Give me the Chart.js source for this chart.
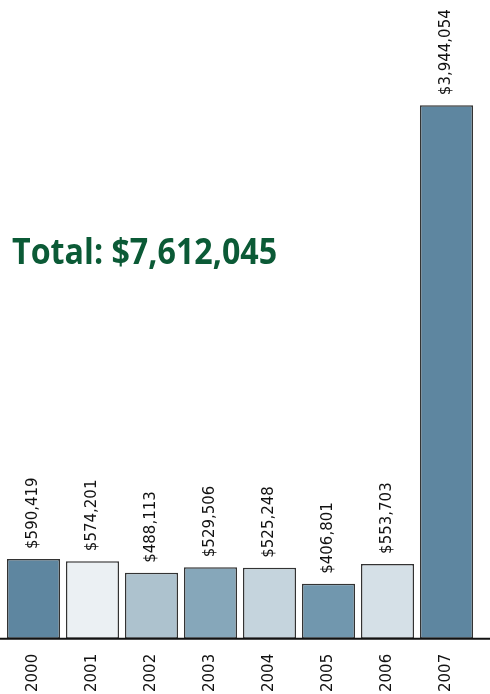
<!DOCTYPE html>
<html>
<head>
<meta charset="utf-8">
<script src="https://cdn.jsdelivr.net/npm/chart.js@4.4.0/dist/chart.umd.min.js"></script>
<style>
  html, body { margin: 0; padding: 0; background: #fff; }
  #wrap { position: relative; width: 490px; height: 694px; }
  #total { position: absolute; left: 12px; top: 226px; font-family: "Open Sans", sans-serif; font-weight: bold; font-size: 36px; color: #0b5a36; white-space: nowrap; transform: scaleX(0.895); transform-origin: left top; }
</style>
</head>
<body>
<div id="wrap">
  <canvas id="c" width="490" height="694"></canvas>
  <div id="total">Total: $7,612,045</div>
</div>
<script>
const years = ["2000", "2001", "2002", "2003", "2004", "2005", "2006", "2007"];
const amounts = [590419, 574201, 488113, 529506, 525248, 406801, 553703, 3944054];
const barColors = ["#5e86a0", "#ebf0f3", "#adc2ce", "#86a7ba", "#c5d4dd", "#7197ae", "#d5e0e7", "#5e86a0"];

const fmt = v => "$" + v.toLocaleString("en-US");

const valueLabels = {
  id: "valueLabels",
  afterDatasetsDraw(chart) {
    const ctx = chart.ctx;
    const meta = chart.getDatasetMeta(0);
    ctx.save();
    ctx.font = "15px 'DejaVu Sans'";
    ctx.fillStyle = "#111";
    ctx.textAlign = "left";
    ctx.textBaseline = "middle";
    meta.data.forEach((bar, i) => {
      ctx.save();
      ctx.translate(bar.x, bar.y - 10);
      ctx.rotate(-Math.PI / 2);
      ctx.fillText(fmt(amounts[i]), 0, 0);
      ctx.restore();
    });
    ctx.restore();
  }
};

const axisLine = {
  id: "axisLine",
  afterDatasetsDraw(chart) {
    const ctx = chart.ctx;
    const y = chart.scales.y.getPixelForValue(0);
    ctx.save();
    ctx.strokeStyle = "#111";
    ctx.lineWidth = 2;
    ctx.beginPath();
    ctx.moveTo(0, y);
    ctx.lineTo(chart.width, y);
    ctx.stroke();
    ctx.restore();
  }
};

new Chart(document.getElementById("c"), {
  type: "bar",
  data: {
    labels: years,
    datasets: [{
      data: amounts,
      backgroundColor: barColors,
      borderColor: "#333",
      borderWidth: 1.5,
      borderSkipped: false,
      barPercentage: 0.9,
      categoryPercentage: 1.0
    }]
  },
  options: {
    responsive: false,
    animation: false,
    layout: { padding: { left: 4, right: 14, top: 0, bottom: -5 } },
    plugins: { legend: { display: false }, tooltip: { enabled: false } },
    scales: {
      x: {
        grid: { display: false },
        border: { display: false },
        ticks: {
          color: "#111",
          font: { family: "DejaVu Sans", size: 15 },
          minRotation: 90,
          maxRotation: 90,
          padding: 7
        }
      },
      y: {
        display: false,
        min: 0,
        max: 4721000
      }
    }
  },
  plugins: [valueLabels, axisLine]
});
</script>
</body>
</html>
